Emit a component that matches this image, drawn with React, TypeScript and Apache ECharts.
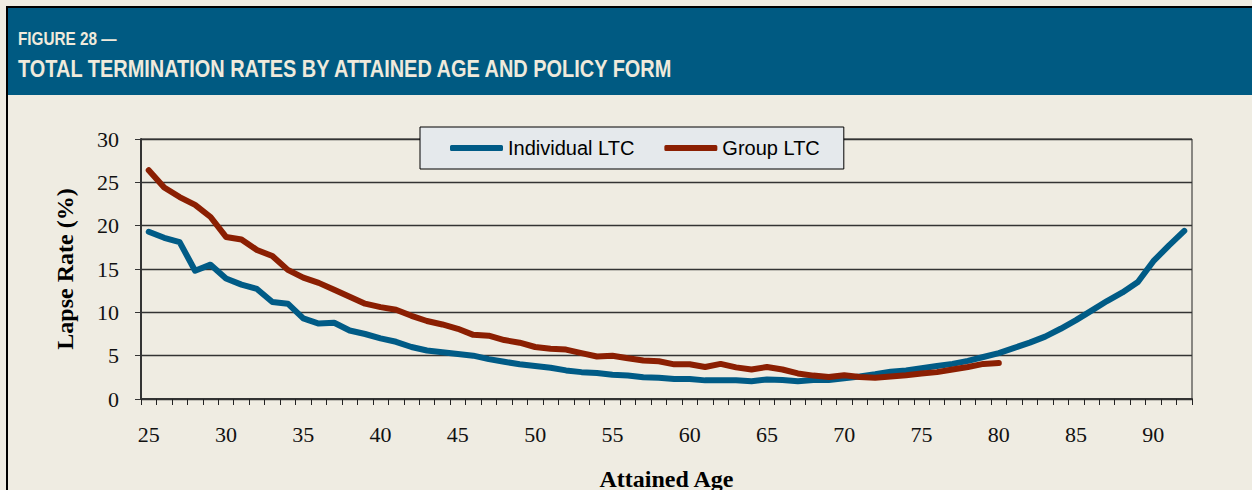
import React, { useEffect, useRef } from "react";
import * as echarts from "echarts";

const ages: string[] = [];
for (let a = 25; a <= 92; a++) ages.push(String(a));

const individualLTC: (number | null)[] = [
  19.3, 18.6, 18.1, 14.8, 15.5, 13.9, 13.2, 12.7, 11.2, 11.0,
  9.3, 8.7, 8.8, 7.9, 7.5, 7.0, 6.6, 6.0, 5.6, 5.4,
  5.2, 5.0, 4.6, 4.3, 4.0, 3.8, 3.6, 3.3, 3.1, 3.0,
  2.8, 2.7, 2.5, 2.45, 2.3, 2.3, 2.15, 2.15, 2.15, 2.05,
  2.25, 2.2, 2.05, 2.2, 2.2, 2.4, 2.6, 2.85, 3.15, 3.3,
  3.55, 3.8, 4.05, 4.4, 4.85, 5.3, 5.9, 6.5, 7.2, 8.1,
  9.1, 10.2, 11.3, 12.3, 13.5, 15.9, 17.7, 19.4,
];

const groupLTC: (number | null)[] = [
  26.4, 24.4, 23.3, 22.4, 21.0, 18.7, 18.4, 17.2, 16.5, 14.9,
  14.0, 13.4, 12.6, 11.8, 11.0, 10.6, 10.3, 9.6, 9.0, 8.6,
  8.1, 7.4, 7.3, 6.8, 6.5, 6.0, 5.8, 5.7, 5.3, 4.9,
  5.0, 4.7, 4.45, 4.35, 4.0, 4.0, 3.7, 4.05, 3.65, 3.4,
  3.7, 3.4, 2.95, 2.7, 2.55, 2.75, 2.55, 2.45, 2.6, 2.75,
  2.95, 3.1, 3.4, 3.7, 4.05, 4.15,
  null, null, null, null, null, null, null, null, null, null, null, null,
];

const figureLabel = "FIGURE 28 —";
const chartTitle = "TOTAL TERMINATION RATES BY ATTAINED AGE AND POLICY FORM";
const yTitle = "Lapse Rate (%)";
const xTitle = "Attained Age";

const SERIF = "'Liberation Serif', 'Times New Roman', serif";
const SANS = "'Liberation Sans', Arial, sans-serif";

export default function App() {
  const ref = useRef<HTMLDivElement>(null);
  useEffect(() => {
    document.body.style.margin = "0";
    const chart = echarts.init(ref.current!, null, { renderer: "svg" });
    chart.setOption({
      animation: false,
      backgroundColor: "#efece2",
      graphic: [
        { type: "rect", shape: { x: 7, y: 7, width: 1245, height: 88 }, style: { fill: "#005a82" } },
        { type: "line", shape: { x1: 6, y1: 7, x2: 1252, y2: 7 }, style: { stroke: "#000", lineWidth: 2 } },
        { type: "line", shape: { x1: 7, y1: 6, x2: 7, y2: 490 }, style: { stroke: "#000", lineWidth: 2 } },
        {
          type: "text", x: 18, y: 30, scaleX: 0.85,
          style: { text: figureLabel, fill: "#efeadc", font: `bold 18px ${SANS}`, textVerticalAlign: "top" },
        },
        {
          type: "text", x: 18, y: 58, scaleX: 0.867,
          style: { text: chartTitle, fill: "#efeadc", font: `bold 23px ${SANS}`, textVerticalAlign: "top" },
        },
      ],
      legend: {
        left: 420,
        top: 127,
        orient: "horizontal",
        backgroundColor: "#e5e9ec",
        borderColor: "#000",
        borderWidth: 1,
        padding: [11, 24, 11, 30],
        itemGap: 30,
        itemWidth: 53,
        itemHeight: 6,
        icon: "roundRect",
        textStyle: { fontFamily: SANS, fontSize: 20, color: "#000" },
        data: ["Individual LTC", "Group LTC"],
      },
      grid: {
        left: 141, right: 60, top: 139, bottom: 91,
        containLabel: false,
        outerBoundsMode: "none",
        show: true, borderColor: "#222", borderWidth: 1, backgroundColor: "transparent",
      },
      xAxis: {
        type: "category",
        data: ages,
        boundaryGap: true,
        name: xTitle,
        nameLocation: "middle",
        nameGap: 68,
        nameTextStyle: { fontFamily: SERIF, fontSize: 24, fontWeight: "bold", color: "#000" },
        axisLine: { lineStyle: { color: "#333", width: 2 } },
        axisTick: { show: true, interval: 0, length: 6, lineStyle: { color: "#222" } },
        axisLabel: { interval: 4, margin: 24, fontFamily: SERIF, fontSize: 22, color: "#111" },
        splitLine: { show: false },
      },
      yAxis: {
        type: "value",
        min: 0, max: 30, interval: 5,
        name: yTitle,
        nameLocation: "middle",
        nameGap: 64,
        nameTextStyle: { fontFamily: SERIF, fontSize: 24, fontWeight: "bold", color: "#000" },
        axisLine: { show: true, lineStyle: { color: "#333", width: 2 } },
        axisTick: { show: true, length: 6, lineStyle: { color: "#333" } },
        axisLabel: { margin: 22, fontFamily: SERIF, fontSize: 22, color: "#111" },
        splitLine: { show: true, lineStyle: { color: "#333", width: 1.3 } },
      },
      series: [
        {
          name: "Individual LTC",
          type: "line",
          data: individualLTC,
          symbol: "none",
          color: "#005b86",
          lineStyle: { width: 6, color: "#005b86", cap: "round", join: "round" },
          z: 3,
        },
        {
          name: "Group LTC",
          type: "line",
          data: groupLTC,
          symbol: "none",
          connectNulls: false,
          color: "#8b1f02",
          lineStyle: { width: 6, color: "#8b1f02", cap: "round", join: "round" },
          z: 4,
        },
      ],
    });
    return () => chart.dispose();
  }, []);
  return <div ref={ref} style={{ width: 1252, height: 490 }} />;
}
